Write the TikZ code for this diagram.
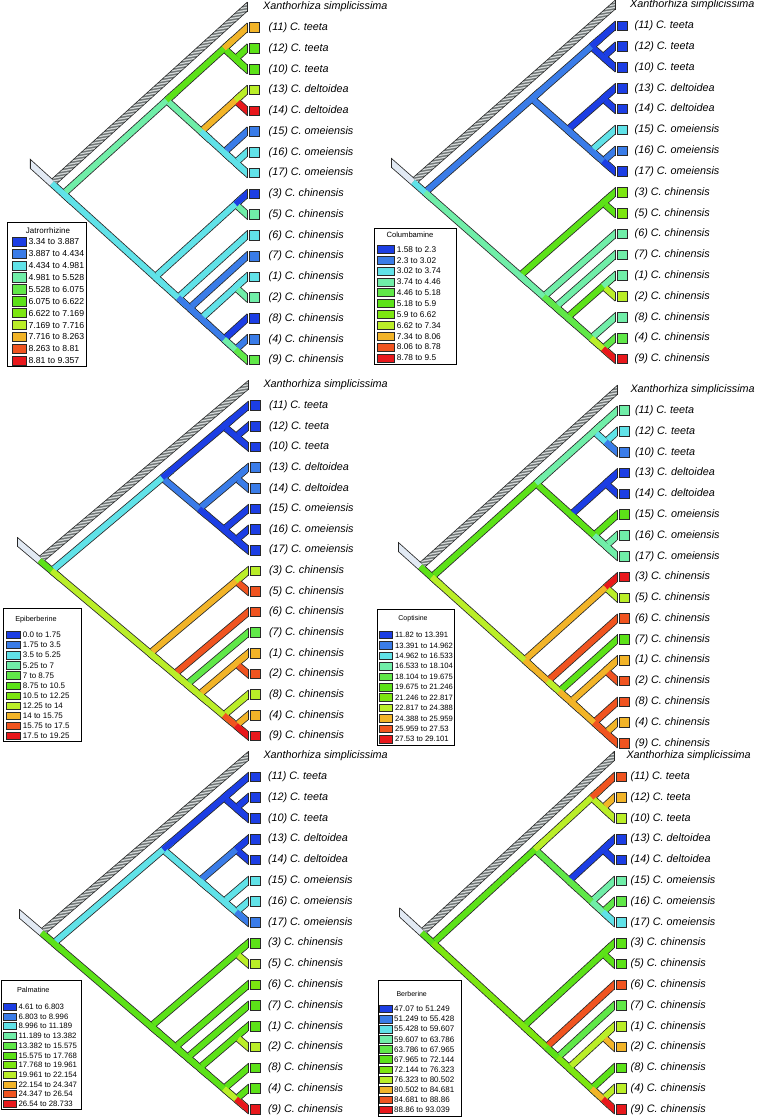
\documentclass[tikz,border=0pt]{standalone}
\usepackage{fontspec}
\setmainfont{Liberation Sans}
\usetikzlibrary{calc}
\definecolor{c1}{RGB}{28,62,228}
\definecolor{c2}{RGB}{58,124,232}
\definecolor{c3}{RGB}{96,226,232}
\definecolor{c4}{RGB}{112,238,168}
\definecolor{c5}{RGB}{96,232,72}
\definecolor{c6}{RGB}{92,226,24}
\definecolor{c7}{RGB}{124,230,16}
\definecolor{c8}{RGB}{186,238,40}
\definecolor{c9}{RGB}{242,180,40}
\definecolor{c10}{RGB}{240,84,32}
\definecolor{c11}{RGB}{232,24,28}
\definecolor{stubc}{RGB}{226,234,244}
\definecolor{hatchbg}{RGB}{112,118,118}
\definecolor{hatchln}{RGB}{214,218,218}
\definecolor{edgec}{RGB}{40,40,40}
\tikzset{
 outl/.style={line width=7.4pt, draw=edgec},
 fil/.style={line width=5.8pt},
 tipedge/.style={draw=edgec, line width=0.8pt},
 hatchline/.style={draw=hatchln, line width=1.2pt},
 tipbox/.style={draw=edgec, line width=0.8pt, minimum width=9.6pt, minimum height=9.6pt, inner sep=0pt, anchor=west},
 lab/.style={font=\itshape\fontsize{10.8}{12}\selectfont, anchor=west, inner sep=0pt},
 legbox/.style={draw=black, line width=1pt, fill=white},
 sw/.style={draw=edgec, line width=0.7pt},
 legtxt/.style={font=\fontsize{\legfs}{\legfs}\selectfont, anchor=west, inner sep=0pt},
 legttl/.style={font=\fontsize{\ttlfs}{\ttlfs}\selectfont, inner sep=0pt}
}
\newcommand\mkcoords[5]{%
 \foreach \nm/\na/\nb in {R/0/17,I/1/17,A/1/8,T/1/3,T2/2/3,D/4/8,DE/4/5,O/6/8,O2/7/8,B/9/17,C35/9/10,B2/11/17,B3/12/17,B4/13/17,C12/13/14,B5/15/17,C49/16/17,tX/0/0,t11/1/1,t12/2/2,t10/3/3,t13/4/4,t14/5/5,t15/6/6,t16/7/7,t17/8/8,t3/9/9,t5/10/10,t6/11/11,t7/12/12,t1/13/13,t2/14/14,t8/15/15,t4/16/16,t9/17/17}
 {\coordinate (#1\nm) at ({#2-#5*#4*(\nb-\na)/2},{#3+#4*(\na+\nb)/2});}%
}
\def\topo{R/I/0pt,I/A/2.9pt,I/B/0pt,A/T/0pt,A/D/2.9pt,T/t11/0pt,T/T2/2.9pt,T2/t12/2.9pt,T2/t10/0pt,D/DE/2.9pt,D/O/0pt,DE/t13/0pt,DE/t14/2.9pt,O/t15/2.9pt,O/O2/0pt,O2/t16/2.9pt,O2/t17/0pt,B/C35/2.9pt,B/B2/0pt,C35/t3/0pt,C35/t5/2.9pt,B2/t6/2.9pt,B2/B3/0pt,B3/t7/2.9pt,B3/B4/0pt,B4/C12/2.9pt,B4/B5/0pt,C12/t1/0pt,C12/t2/2.9pt,B5/t8/2.9pt,B5/C49/0pt,C49/t4/2.9pt,C49/t9/0pt}
\def\tiplist{t11/{(11) C. teeta},t12/{(12) C. teeta},t10/{(10) C. teeta},t13/{(13) C. deltoidea},t14/{(14) C. deltoidea},t15/{(15) C. omeiensis},t16/{(16) C. omeiensis},t17/{(17) C. omeiensis},t3/{(3) C. chinensis},t5/{(5) C. chinensis},t6/{(6) C. chinensis},t7/{(7) C. chinensis},t1/{(1) C. chinensis},t2/{(2) C. chinensis},t8/{(8) C. chinensis},t4/{(4) C. chinensis},t9/{(9) C. chinensis}}
\def\brA{{3,4,3,6,4,9,6,6,6,9,3,8,11,2,3,3,3,3,3,1,4,3,2,2,2,3,2,3,4,1,4,2,5}}
\def\bxA{{9,6,6,8,11,2,3,3,1,4,3,2,3,4,1,2,5}}
\def\brB{{3,2,4,2,2,1,1,1,1,1,2,1,1,3,2,2,1,6,4,6,6,4,5,4,5,6,5,4,8,4,8,5,11}}
\def\bxB{{1,1,1,1,1,3,2,1,7,7,4,4,4,8,4,5,11}}
\def\brC{{6,3,8,1,2,1,1,1,1,2,1,2,2,1,1,1,1,9,8,8,10,10,8,5,8,9,8,9,10,8,10,9,11}}
\def\bxC{{1,1,1,2,2,1,1,1,8,10,10,5,9,10,8,9,11}}
\def\brD{{6,6,8,4,6,4,3,3,2,1,6,1,1,6,4,4,4,9,9,11,8,10,8,6,9,9,9,9,10,10,10,9,10}}
\def\bxD{{4,3,2,1,1,6,4,4,11,8,10,6,9,10,10,9,10}}
\def\brE{{6,3,6,1,3,1,1,1,1,2,3,1,1,3,3,3,2,6,6,6,8,6,6,6,6,6,6,6,8,6,8,6,11}}
\def\bxE{{1,1,1,1,1,3,3,2,6,8,7,6,6,8,6,6,11}}
\def\brF{{6,6,7,8,5,10,8,9,8,1,5,1,1,4,4,5,3,6,7,6,6,10,6,5,7,8,7,8,9,6,9,8,11}}
\def\bxF{{10,9,8,1,1,4,5,3,6,6,10,5,8,9,6,8,11}}
\newcommand\drawtree[9]{%
 \mkcoords{#1}{#2}{#3}{#4}{#5}%
 \pgfmathsetmacro\Rx{#2-#5*#4*8.5}%
 \pgfmathsetmacro\Ry{#3+#4*8.5}%
 \coordinate (#1S) at ($(#1R)!-40pt!(#1I)$);
 \coordinate (#1Xe) at ($(#1tX)!-12pt!(#1R)$);
 \coordinate (#1Rs) at ($(#1R)!2.9pt!(#1tX)$);
 \begin{scope}
  \clip ({\Rx-22},{#3-15}) rectangle ({#2},{#3+#4*17+15});
  \draw[outl] (#1S) -- (#1R);
  \draw[outl] (#1R) -- (#1Xe);
  \foreach \brp/\brc/\brs in \topo {\draw[outl] (#1\brp) -- ($(#1\brc)!-12pt!(#1\brp)$);}
  \draw[fil, draw=stubc] (#1S) -- (#1R);
  \draw[fil, draw=hatchbg] (#1Rs) -- (#1Xe);
  \begin{scope}
   \clip ($(#1Rs)!2.9pt!90:(#1Xe)$) -- ($(#1Rs)!2.9pt!-90:(#1Xe)$) -- ($(#1Xe)!2.9pt!90:(#1Rs)$) -- ($(#1Xe)!2.9pt!-90:(#1Rs)$) -- cycle;
   \foreach \j in {-10,...,90} {\draw[hatchline] ({\Rx-10},{\Ry+5-\j*2.8}) -- ++(260,-45);}
  \end{scope}
  \foreach \brp/\brc/\brs [count=\i from 0] in \topo {%
    \pgfmathtruncatemacro\cc{#6[\i]}%
    \draw[fil, draw=c\cc, shorten <=\brs] (#1\brp) -- ($(#1\brc)!-12pt!(#1\brp)$);}
 \end{scope}
 \foreach \tp in {tX,t11,t12,t10,t13,t14,t15,t16,t17,t3,t5,t6,t7,t1,t2,t8,t4,t9}
   {\draw[tipedge] ($(#1\tp)+(0,-4.9)$) -- ($(#1\tp)+(0,4.9)$);}
 \draw[tipedge] ({\Rx-22},{\Ry-22/#5-4.9}) -- ({\Rx-22},{\Ry-22/#5+4.9});
 \foreach \tp/\lab [count=\i from 0] in \tiplist {%
   \pgfmathtruncatemacro\bxc{#7[\i]}%
   \node[tipbox, fill=c\bxc] (#1box\tp) at ($(#1\tp)+(2,0)$) {};
   \node[lab] (#1lab\tp) at ($(#1\tp)+(#8,0)$) {\lab};}
 \node[lab] (#1labX) at ($(#1tX)+(#9,0)$) {Xanthorhiza simplicissima};
}
\newcommand\legrows[8]{%
 \foreach \lab [count=\i] in {#7} {%
   \pgfmathsetmacro\yy{#1+(\i-1)*#2}%
   \draw[sw, fill=c\i] ({#3},{\yy-#5/2}) rectangle ({#4},{\yy+#5/2});
   \node[legtxt] (#8\i) at ({#6},{\yy}) {\lab};}%
}
\begin{document}
\begin{tikzpicture}[x=1pt,y=-1pt]
\fill[white] (0,0) rectangle (763,1117);
\useasboundingbox (0,0) rectangle (763,1117);
\drawtree{P1}{247}{6.9}{20.77}{1.105}{\brA}{\bxA}{21.5}{16}
\drawtree{P2}{615}{4.9}{20.83}{1.14}{\brB}{\bxB}{19.5}{15}
\drawtree{P3}{248.3}{385}{20.64}{1.19}{\brC}{\bxC}{20.5}{15}
\drawtree{P4}{617.3}{389.9}{20.79}{1.115}{\brD}{\bxD}{17.5}{13}
\drawtree{P5}{248.3}{756}{20.79}{1.17}{\brE}{\bxE}{19.5}{15}
\drawtree{P6}{614.3}{756}{20.79}{1.09}{\brF}{\bxF}{16.2}{12}
% legends
\def\legfs{8.7}\def\ttlfs{8}
\draw[legbox] (7.3,222.7) rectangle (86,366.7);
\node[legttl] (L1t) at (48,230.7) {Jatrorrhizine};
\legrows{241.7}{11.9}{12.7}{26}{9.3}{28.3}{3.34 to 3.887,3.887 to 4.434,4.434 to 4.981,4.981 to 5.528,5.528 to 6.075,6.075 to 6.622,6.622 to 7.169,7.169 to 7.716,7.716 to 8.263,8.263 to 8.81,8.81 to 9.357}{L1r}
\def\legfs{8.3}\def\ttlfs{7.6}
\draw[legbox] (374,228.3) rectangle (456,364);
\node[legttl] (L2t) at (410,235) {Columbamine};
\legrows{249.3}{10.87}{377.3}{394}{8}{396.7}{1.58 to 2.3,2.3 to 3.02,3.02 to 3.74,3.74 to 4.46,4.46 to 5.18,5.18 to 5.9,5.9 to 6.62,6.62 to 7.34,7.34 to 8.06,8.06 to 8.78,8.78 to 9.5}{L2r}
\def\legfs{8}\def\ttlfs{7.3}
\draw[legbox] (3.3,608.3) rectangle (81.7,741.7);
\node[legttl] (L3t) at (36,619.3) {Epiberberine};
\legrows{635}{10.1}{6}{20.7}{7.3}{22.7}{0.0 to 1.75,1.75 to 3.5,3.5 to 5.25,5.25 to 7,7 to 8.75,8.75 to 10.5,10.5 to 12.25,12.25 to 14,14 to 15.75,15.75 to 17.5,17.5 to 19.25}{L3r}
\def\legfs{7.7}\def\ttlfs{7}
\draw[legbox] (377.3,609.3) rectangle (454,745);
\node[legttl] (L4t) at (413,619) {Coptisine};
\legrows{635}{10.43}{379}{392.7}{7.5}{395}{11.82 to 13.391,13.391 to 14.962,14.962 to 16.533,16.533 to 18.104,18.104 to 19.675,19.675 to 21.246,21.246 to 22.817,22.817 to 24.388,24.388 to 25.959,25.959 to 27.53,27.53 to 29.101}{L4r}
\def\legfs{7.8}\def\ttlfs{7.3}
\draw[legbox] (1.7,980.7) rectangle (81.7,1109.3);
\node[legttl] (L5t) at (33.3,990) {Palmatine};
\legrows{1006.7}{9.73}{3.3}{16}{7}{18.3}{4.61 to 6.803,6.803 to 8.996,8.996 to 11.189,11.189 to 13.382,13.382 to 15.575,15.575 to 17.768,17.768 to 19.961,19.961 to 22.154,22.154 to 24.347,24.347 to 26.54,26.54 to 28.733}{L5r}
\def\legfs{8}\def\ttlfs{7}
\draw[legbox] (378,980) rectangle (461.7,1116);
\node[legttl] (L6t) at (411.7,994) {Berberine};
\legrows{1009}{10.1}{379.5}{392.3}{7.5}{394}{47.07 to 51.249,51.249 to 55.428,55.428 to 59.607,59.607 to 63.786,63.786 to 67.965,67.965 to 72.144,72.144 to 76.323,76.323 to 80.502,80.502 to 84.681,84.681 to 88.86,88.86 to 93.039}{L6r}
\end{tikzpicture}
\end{document}
